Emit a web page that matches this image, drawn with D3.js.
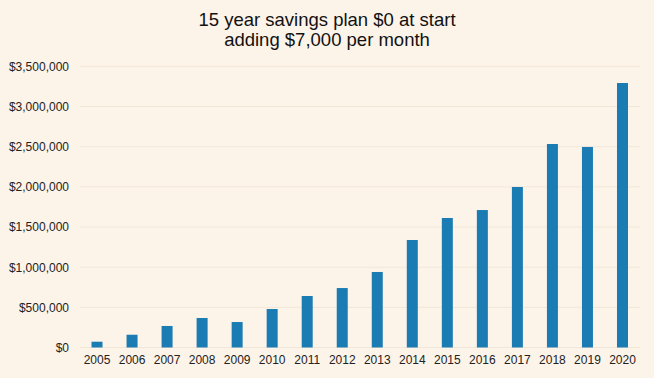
<!DOCTYPE html>
<html>
<head>
<meta charset="utf-8">
<script src="https://cdn.jsdelivr.net/npm/d3@7"></script>
<style>
  html, body { margin: 0; padding: 0; background: #fdf4e9; }
  svg { display: block; }
</style>
</head>
<body>
<svg id="chart" width="654" height="378"></svg>
<script>
const years = ["2005","2006","2007","2008","2009","2010","2011","2012","2013","2014","2015","2016","2017","2018","2019","2020"];
const balances = [72000,159000,268000,367000,317000,479000,641000,740000,940000,1338000,1612000,1711000,1998000,2533000,2496000,3292000];
const yTicks = [0,500000,1000000,1500000,2000000,2500000,3000000,3500000];
const titleLines = ["15 year savings plan $0 at start","adding $7,000 per month"];

const W = 654, H = 378;
const margin = {left: 79.5, right: 14, top: 66.3, bottom: 30.5};
const svg = d3.select("#chart");
const font = "'Liberation Sans', Arial, sans-serif";

svg.append("rect").attr("width", W).attr("height", H).attr("fill", "#fdf4e9");

const x = d3.scaleBand().domain(years).range([margin.left, W - margin.right]).paddingInner(0.686).paddingOuter(0.343);
const y = d3.scaleLinear().domain([0, 3500000]).range([H - margin.bottom, margin.top]);

// gridlines
svg.append("g").selectAll("line").data(yTicks).join("line")
  .attr("x1", margin.left).attr("x2", W - margin.right)
  .attr("y1", d => y(d)).attr("y2", d => y(d))
  .attr("stroke", "#f2e6d8").attr("stroke-width", 1);

// bars
svg.append("g").selectAll("rect").data(years).join("rect")
  .attr("x", d => x(d))
  .attr("width", x.bandwidth())
  .attr("y", (d, i) => y(balances[i]))
  .attr("height", (d, i) => y(0) - y(balances[i]))
  .attr("fill", "#1a7cb3");

// y axis
const fmt = d => "$" + d3.format(",")(d);
const yAxis = svg.append("g").attr("transform", `translate(${margin.left},0)`)
  .call(d3.axisLeft(y).tickValues(yTicks).tickFormat(fmt).tickSize(0).tickPadding(10.5));
yAxis.select(".domain").remove();
yAxis.selectAll("text").attr("font-family", font).attr("font-size", 12).attr("fill", "#222");

// x axis
const xAxis = svg.append("g").attr("transform", `translate(0,${y(0)})`)
  .call(d3.axisBottom(x).tickSize(0).tickPadding(8));
xAxis.select(".domain").remove();
xAxis.selectAll("text").attr("font-family", font).attr("font-size", 12).attr("fill", "#222");

// title
svg.append("g").selectAll("text").data(titleLines).join("text")
  .attr("x", 327).attr("y", (d, i) => 25.7 + i * 20.5)
  .attr("text-anchor", "middle")
  .attr("font-family", font).attr("font-size", 18.5).attr("fill", "#111")
  .text(d => d);
</script>
</body>
</html>
